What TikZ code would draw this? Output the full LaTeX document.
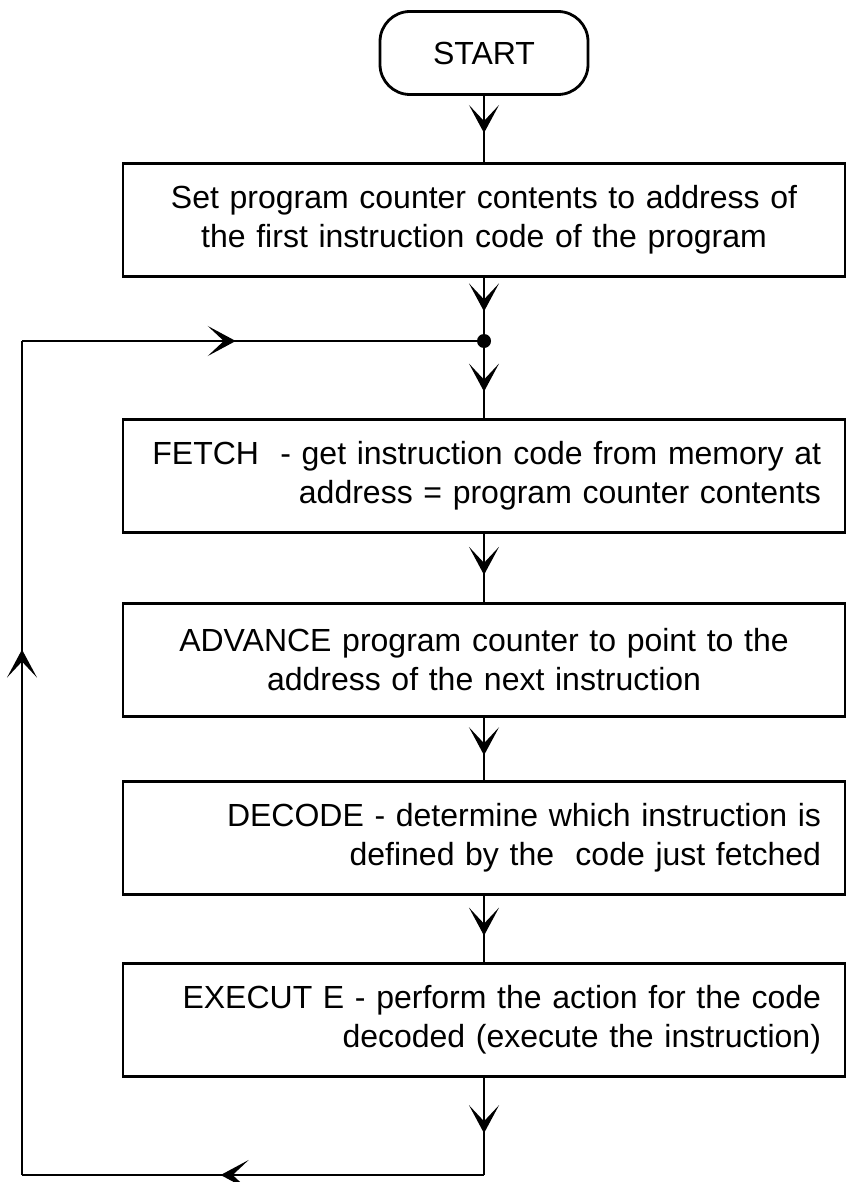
\documentclass[tikz,border=0pt]{standalone}
\usepackage{fontspec}
\setmainfont{Liberation Sans}
\usetikzlibrary{arrows.meta,decorations.markings}
\tikzset{
  txt/.style={font=\fontsize{32}{39}\selectfont},
  box/.style={draw, line width=2.6pt, minimum width=722pt, minimum height=113pt,
    inner xsep=24pt, inner ysep=0pt, text width=674pt, txt},
  term/.style={draw, line width=2.8pt, rounded corners=30pt, minimum width=208pt,
    minimum height=83pt, txt},
  conn/.style={line width=1.6pt},
  marr/.style={postaction={decorate}, decoration={markings,
    mark=at position #1 with {\arrow{Stealth[length=28pt,width=30pt,inset=16pt]}}}},
  jdot/.style={circle, fill, inner sep=0pt, minimum size=14pt}
}
\begin{document}
\begin{tikzpicture}[x=1pt,y=-1pt]
\useasboundingbox (0,0) rectangle (847,1182);
\node[term] (start) at (484,53) {START};
\node[box, align=center] (init) at (484,220) {Set program counter contents to address of\\the first instruction code of the program};
\node[jdot] (j) at (484,341) {};
\node[box, align=right] (fetch) at (484,476) {FETCH\ \ - get instruction code from memory at\\address = program counter contents};
\node[box, align=center] (adv) at (484,660) {ADVANCE program counter to point to the\\address of the next instruction};
\node[box, align=right] (dec) at (484,838) {DECODE - determine which instruction is\\defined by the\ \ code just fetched};
\node[box, align=right] (exe) at (484,1020) {EXECUT E - perform the action for the code\\decoded (execute the instruction)};
\coordinate (b1) at (484,1175);
\coordinate (b2) at (22,1175);
\coordinate (b3) at (22,341);
\draw[conn, marr=0.56] (start) -- (init);
\draw[conn, marr=0.6] (init) -- (j);
\draw[conn, marr=0.62] (j) -- (fetch);
\draw[conn, marr=0.6] (fetch) -- (adv);
\draw[conn, marr=0.6] (adv) -- (dec);
\draw[conn, marr=0.6] (dec) -- (exe);
\draw[conn, marr=0.57] (exe) -- (b1);
\draw[conn, marr=0.57] (b1) -- (b2);
\draw[conn, marr=0.63] (b2) -- (b3);
\draw[conn, marr=0.47] (b3) -- (j);
\end{tikzpicture}
\end{document}
